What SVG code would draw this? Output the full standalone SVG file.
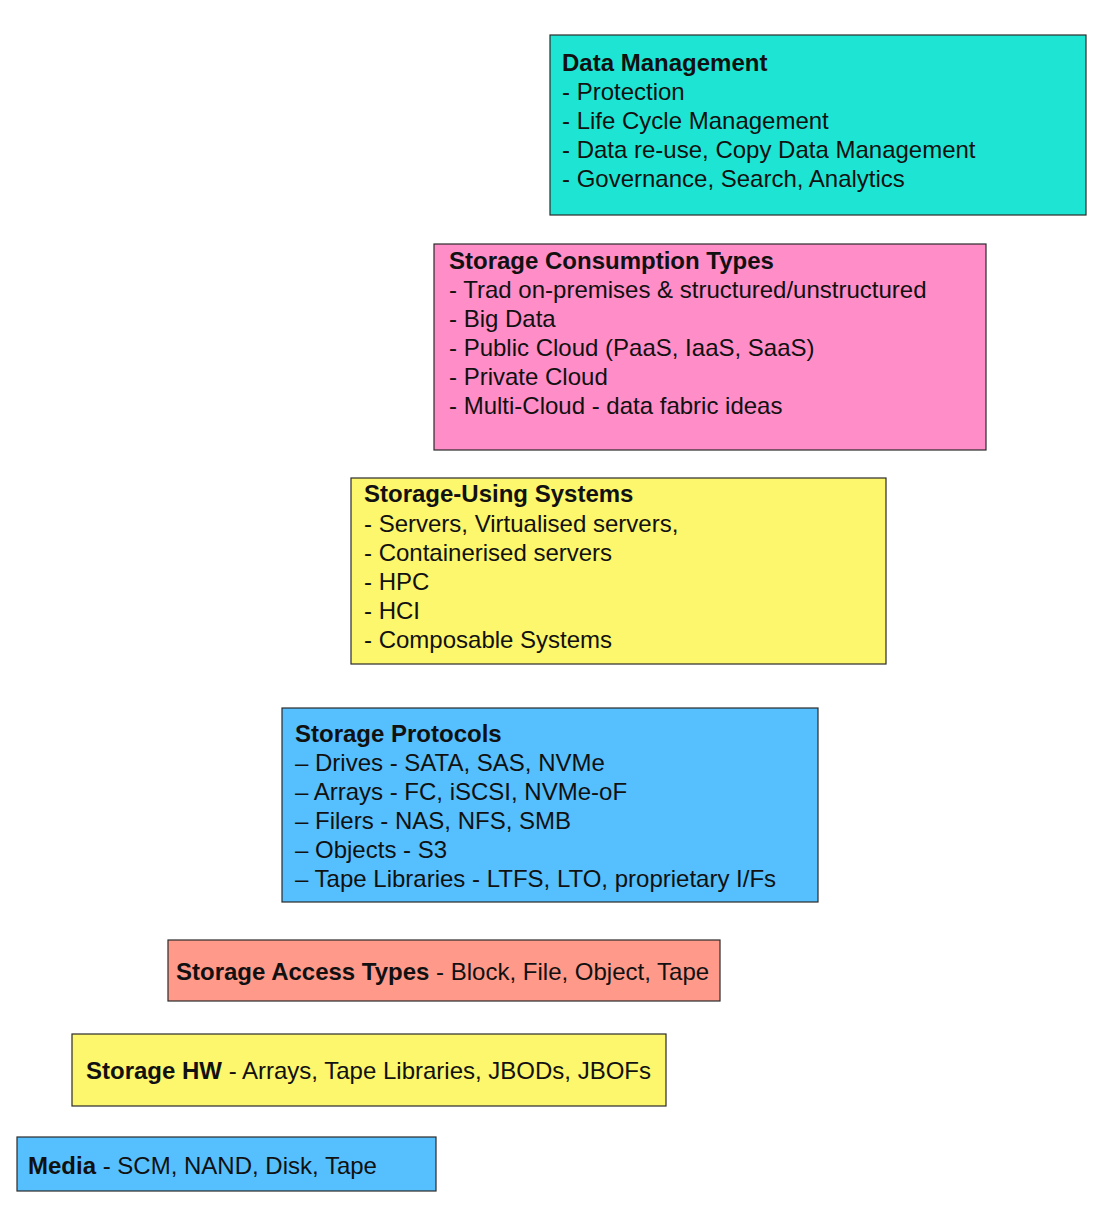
<svg xmlns="http://www.w3.org/2000/svg" width="1104" height="1216" viewBox="0 0 1104 1216">
<style>
  .box { stroke: #2b2b2b; stroke-width: 1.2; }
  text { font-family: "Liberation Sans", Arial, sans-serif; font-size: 24px; fill: #111; }
  .b { font-weight: bold; }
  .teal { fill: #1ee5d3; }
  .pink { fill: #ff8dc8; }
  .yellow { fill: #fcf76c; }
  .blue { fill: #56bffe; }
  .salmon { fill: #ff9a8b; }
</style>
<rect width="1104" height="1216" fill="#ffffff"/>
<g id="connectors"/>
<g id="data-management">
  <rect class="box teal" x="550" y="35" width="536" height="180"/>
  <text x="562" y="71" class="b">Data Management</text>
  <text x="562" y="100">- Protection</text>
  <text x="562" y="129">- Life Cycle Management</text>
  <text x="562" y="158">- Data re-use, Copy Data Management</text>
  <text x="562" y="187">- Governance, Search, Analytics</text>
</g>
<g id="storage-consumption-types">
  <rect class="box pink" x="434" y="244" width="552" height="206"/>
  <text x="449" y="269" class="b">Storage Consumption Types</text>
  <text x="449" y="298">- Trad on-premises &amp; structured/unstructured</text>
  <text x="449" y="327">- Big Data</text>
  <text x="449" y="356">- Public Cloud (PaaS, IaaS, SaaS)</text>
  <text x="449" y="385">- Private Cloud</text>
  <text x="449" y="414">- Multi-Cloud - data fabric ideas</text>
</g>
<g id="storage-using-systems">
  <rect class="box yellow" x="351" y="478" width="535" height="186"/>
  <text x="364" y="502" class="b">Storage-Using Systems</text>
  <text x="364" y="532">- Servers, Virtualised servers,</text>
  <text x="364" y="561">- Containerised servers</text>
  <text x="364" y="590">- HPC</text>
  <text x="364" y="619">- HCI</text>
  <text x="364" y="648">- Composable Systems</text>
</g>
<g id="storage-protocols">
  <rect class="box blue" x="282" y="708" width="536" height="194"/>
  <text x="295" y="742" class="b">Storage Protocols</text>
  <text x="295" y="771">– Drives - SATA, SAS, NVMe</text>
  <text x="295" y="800">– Arrays - FC, iSCSI, NVMe-oF</text>
  <text x="295" y="829">– Filers - NAS, NFS, SMB</text>
  <text x="295" y="858">– Objects - S3</text>
  <text x="295" y="887">– Tape Libraries - LTFS, LTO, proprietary I/Fs</text>
</g>
<g id="storage-access-types">
  <rect class="box salmon" x="168" y="940" width="552" height="61"/>
  <text x="176" y="980"><tspan class="b">Storage Access Types</tspan> - Block, File, Object, Tape</text>
</g>
<g id="storage-hw">
  <rect class="box yellow" x="72" y="1034" width="594" height="72"/>
  <text x="86" y="1079"><tspan class="b">Storage HW</tspan> - Arrays, Tape Libraries, JBODs, JBOFs</text>
</g>
<g id="media">
  <rect class="box blue" x="17" y="1137" width="419" height="54"/>
  <text x="28" y="1174"><tspan class="b">Media</tspan> - SCM, NAND, Disk, Tape</text>
</g>
</svg>
